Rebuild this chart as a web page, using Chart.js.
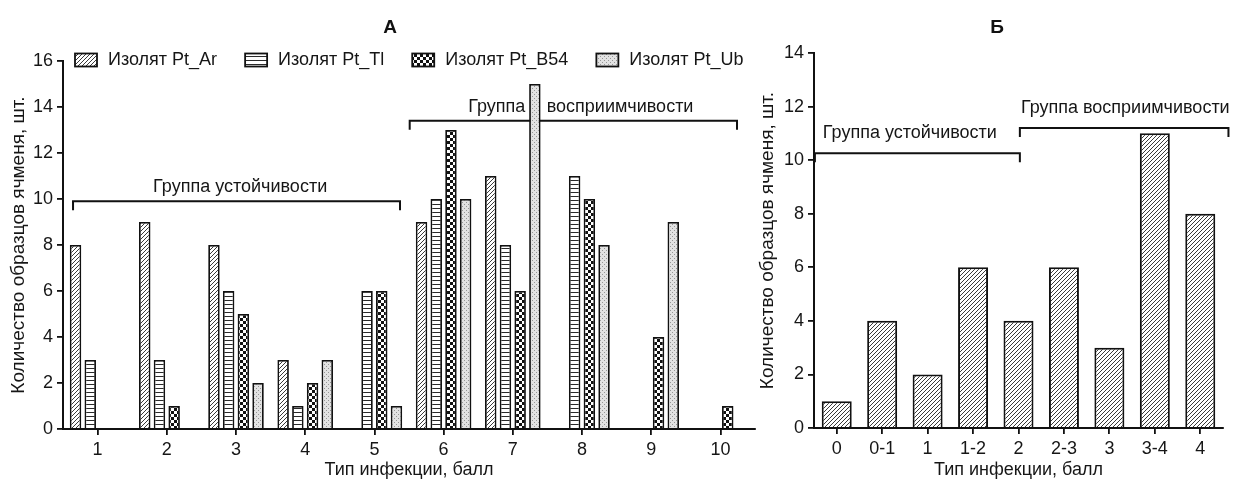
<!DOCTYPE html>
<html>
<head>
<meta charset="utf-8">
<script src="https://cdn.jsdelivr.net/npm/chart.js@4.4.0/dist/chart.umd.min.js"></script>
<style>
  body { margin: 0; background: #fff; width: 1237px; height: 481px; overflow: hidden; position: relative; }
  canvas { position: absolute; top: 0; }
  #chartA { left: 0; width: 757px; height: 481px; }
  #chartB { left: 752px; width: 485px; height: 481px; }
</style>
</head>
<body>
<canvas id="chartA" width="757" height="481"></canvas>
<canvas id="chartB" width="485" height="481"></canvas>
<script>
// ----- Data -----
const typesA = ["1", "2", "3", "4", "5", "6", "7", "8", "9", "10"];
const ptAr = [8, 9, 8, 3, 0, 9, 11, 0, 0, 0];
const ptTl = [3, 3, 6, 1, 6, 10, 8, 11, 0, 0];
const ptB54 = [0, 1, 5, 2, 6, 13, 6, 10, 4, 1];
const ptUb = [0, 0, 2, 3, 1, 10, 15, 8, 9, 0];

const typesB = ["0", "0-1", "1", "1-2", "2", "2-3", "3", "3-4", "4"];
const countsB = [1, 4, 2, 6, 4, 6, 3, 11, 8];

const maxA = 16;
const maxB = 14;
const tickStep = 2;

// group brackets: positions in category index units, heights in axis values
const groupsA = [
  { from: -0.355, to: 4.37, level: 9.9, parts: [{ text: "Группа устойчивости", at: 2.06, y: 10.5, align: "center" }] },
  { from: 4.51, to: 9.24, level: 13.4, parts: [
    { text: "Группа", at: 6.18, y: 14.0, align: "right" },
    { text: "восприимчивости", at: 6.49, y: 14.0, align: "left" }
  ] }
];
const groupsB = [
  { from: -0.48, to: 4.03, level: 10.26, parts: [{ text: "Группа устойчивости", at: 1.61, y: 11.0, align: "center" }] },
  { from: 4.03, to: 8.62, level: 11.2, parts: [{ text: "Группа восприимчивости", at: 6.35, y: 11.95, align: "center" }] }
];

const FONT = "'Liberation Sans', Arial, sans-serif";
const TEXT = "#161616";
const INK = "#111";

// ----- Fill patterns -----
function makePattern(size, draw) {
  const c = document.createElement("canvas");
  c.width = size;
  c.height = size;
  const g = c.getContext("2d");
  draw(g, size);
  return g.createPattern(c, "repeat");
}

const patHatch = makePattern(4, (g, s) => {
  g.fillStyle = "#fff";
  g.fillRect(0, 0, s, s);
  g.strokeStyle = "#3a3a3a";
  g.lineWidth = 1;
  g.beginPath();
  g.moveTo(0, s); g.lineTo(s, 0);
  g.moveTo(-s / 2, s / 2); g.lineTo(s / 2, -s / 2);
  g.moveTo(s / 2, s * 1.5); g.lineTo(s * 1.5, s / 2);
  g.stroke();
});

const patLines = makePattern(4, (g, s) => {
  g.fillStyle = "#fff";
  g.fillRect(0, 0, s, s);
  g.fillStyle = "#2a2a2a";
  g.fillRect(0, 0, s, 1);
});

const patCheck = makePattern(6, (g, s) => {
  g.fillStyle = "#fff";
  g.fillRect(0, 0, s, s);
  g.fillStyle = "#111";
  g.fillRect(0, 0, s / 2, s / 2);
  g.fillRect(s / 2, s / 2, s / 2, s / 2);
});

const patDots = makePattern(4, (g, s) => {
  g.fillStyle = "#e2e2e2";
  g.fillRect(0, 0, s, s);
  g.fillStyle = "#969696";
  g.fillRect(0, 0, 1, 1);
  g.fillRect(2, 2, 1, 1);
});

const seriesA = [
  { label: "Изолят Pt_Ar", data: ptAr, fill: patHatch },
  { label: "Изолят Pt_Tl", data: ptTl, fill: patLines },
  { label: "Изолят Pt_B54", data: ptB54, fill: patCheck },
  { label: "Изолят Pt_Ub", data: ptUb, fill: patDots }
];

// ----- Annotation plugins -----
function drawGroups(chart, groups) {
  const { ctx } = chart;
  const x = chart.scales.x;
  const y = chart.scales.y;
  ctx.save();
  ctx.strokeStyle = INK;
  ctx.lineWidth = 2;
  ctx.fillStyle = TEXT;
  ctx.font = "18px " + FONT;
  ctx.textBaseline = "middle";
  groups.forEach((g) => {
    const x1 = x.getPixelForValue(g.from);
    const x2 = x.getPixelForValue(g.to);
    const yy = y.getPixelForValue(g.level);
    ctx.beginPath();
    ctx.moveTo(x1, yy + 9);
    ctx.lineTo(x1, yy);
    ctx.lineTo(x2, yy);
    ctx.lineTo(x2, yy + 9);
    ctx.stroke();
    g.parts.forEach((p) => {
      ctx.textAlign = p.align;
      ctx.fillText(p.text, x.getPixelForValue(p.at), y.getPixelForValue(p.y));
    });
  });
  ctx.restore();
}

function drawPanelTitle(chart, text, px) {
  const { ctx } = chart;
  ctx.save();
  ctx.fillStyle = INK;
  ctx.font = "bold 19px " + FONT;
  ctx.textAlign = "center";
  ctx.textBaseline = "middle";
  ctx.fillText(text, px, 28);
  ctx.restore();
}

function drawLegend(chart) {
  const { ctx } = chart;
  let px = 75;
  const cy = 60;
  ctx.save();
  ctx.font = "18px " + FONT;
  ctx.textBaseline = "middle";
  ctx.textAlign = "left";
  seriesA.forEach((s) => {
    ctx.fillStyle = s.fill;
    ctx.fillRect(px, cy - 6.5, 22, 13);
    ctx.strokeStyle = INK;
    ctx.lineWidth = 1.8;
    ctx.strokeRect(px, cy - 6.5, 22, 13);
    ctx.fillStyle = TEXT;
    ctx.fillText(s.label, px + 33, cy);
    px += 33 + ctx.measureText(s.label).width + 28;
  });
  ctx.restore();
}

// ----- Shared axis styling -----
function axisX(title, height) {
  return {
    offset: true,
    grid: { display: true, drawOnChartArea: false, drawTicks: true, tickLength: 6, color: INK, lineWidth: 1.8, offset: false },
    border: { display: true, color: INK, width: 2 },
    ticks: { color: TEXT, font: { size: 18, family: FONT }, padding: 4, maxRotation: 0, autoSkip: false },
    title: { display: true, text: title, color: TEXT, font: { size: 18, family: FONT }, padding: { top: -2, bottom: 0 } },
    afterFit(scale) { scale.height = height; }
  };
}

function axisY(max, title, width, titlePad) {
  return {
    min: 0,
    max: max,
    grid: { display: true, drawOnChartArea: false, drawTicks: true, tickLength: 6, color: INK, lineWidth: 1.8 },
    border: { display: true, color: INK, width: 2 },
    ticks: { stepSize: tickStep, color: TEXT, font: { size: 18, family: FONT }, padding: 4 },
    title: { display: true, text: title, color: TEXT, font: { size: 19, family: FONT }, padding: { top: titlePad, bottom: 0 } },
    afterFit(scale) { scale.width = width; }
  };
}

// ----- Chart A -----
new Chart(document.getElementById("chartA").getContext("2d"), {
  type: "bar",
  data: {
    labels: typesA,
    datasets: seriesA.map((s) => ({
      label: s.label,
      data: s.data,
      backgroundColor: s.fill,
      borderColor: INK,
      borderWidth: 1.8,
      borderSkipped: "start",
      categoryPercentage: 0.85,
      barPercentage: 0.78
    }))
  },
  options: {
    responsive: false,
    animation: false,
    devicePixelRatio: 1,
    layout: { padding: { top: 61, right: 2, left: 0, bottom: 0 } },
    plugins: { legend: { display: false }, tooltip: { enabled: false } },
    scales: {
      x: axisX("Тип инфекции, балл", 52),
      y: axisY(maxA, "Количество образцов ячменя, шт.", 63, 7)
    }
  },
  plugins: [{
    id: "annotA",
    beforeDatasetsDraw(chart) { drawGroups(chart, groupsA); },
    afterDraw(chart) {
      drawLegend(chart);
      drawPanelTitle(chart, "А", 390);
    }
  }]
});

// ----- Chart B -----
new Chart(document.getElementById("chartB").getContext("2d"), {
  type: "bar",
  data: {
    labels: typesB,
    datasets: [{
      label: "Тип инфекции",
      data: countsB,
      backgroundColor: patHatch,
      borderColor: INK,
      borderWidth: 2,
      borderSkipped: "start",
      categoryPercentage: 0.66,
      barPercentage: 1
    }]
  },
  options: {
    responsive: false,
    animation: false,
    devicePixelRatio: 1,
    layout: { padding: { top: 53, right: 14, left: 0, bottom: 0 } },
    plugins: { legend: { display: false }, tooltip: { enabled: false } },
    scales: {
      x: axisX("Тип инфекции, балл", 53),
      y: axisY(maxB, "Количество образцов ячменя, шт.", 62, 4)
    }
  },
  plugins: [{
    id: "annotB",
    beforeDatasetsDraw(chart) { drawGroups(chart, groupsB); },
    afterDraw(chart) { drawPanelTitle(chart, "Б", 245); }
  }]
});
</script>
</body>
</html>
